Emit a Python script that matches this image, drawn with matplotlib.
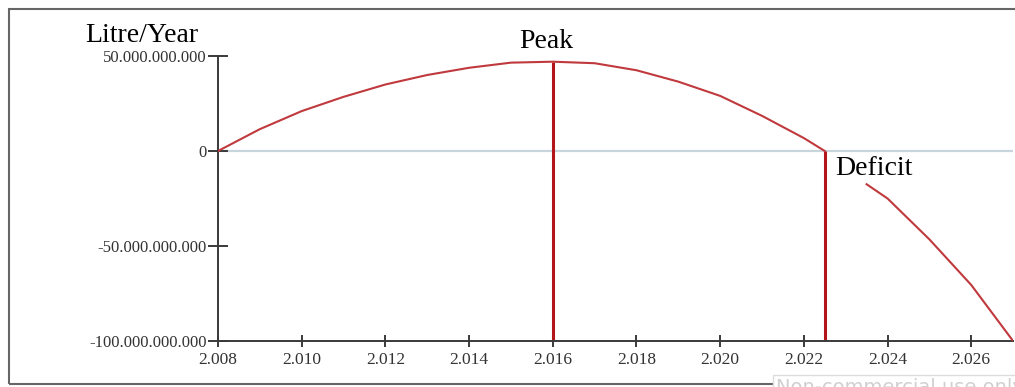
import numpy as np
import matplotlib
matplotlib.use("Agg")
import matplotlib.pyplot as plt
from matplotlib.ticker import FuncFormatter
from matplotlib.patches import Rectangle

plt.rcParams['font.family'] = ['Liberation Serif', 'DejaVu Serif']

# curve (gap after the zero crossing)
years = [2008, 2009, 2010, 2011, 2012, 2013, 2014, 2015, 2016, 2017, 2018,
         2019, 2020, 2021, 2022, 2022.5, np.nan, 2023.5, 2024, 2025, 2026, 2027]
litres_bn = [0, 11.5, 21, 28.5, 35, 40, 43.8, 46.5, 47, 46.2, 42.5,
             36.5, 29, 18.5, 6.8, 0, np.nan, -17.5, -25, -46.5, -70.5, -100]
litres = [v * 1e9 for v in litres_bn]

peak_year = 2016
peak_value = 47e9
deficit_year = 2022.5

xticks = [2008, 2010, 2012, 2014, 2016, 2018, 2020, 2022, 2024, 2026]
yticks = [-100e9, -50e9, 0, 50e9]

fig = plt.figure(figsize=(10.15, 3.87), dpi=100)
ax = fig.add_axes([0.2148, 0.1189, 0.7833, 0.7364])

ax.axhline(0, color="#c8d5dd", lw=1.6, zorder=1)
ax.plot(years, litres, color="#c0393d", lw=1.5, zorder=3)
ax.vlines(peak_year, -100e9, peak_value, color="#b3151b", lw=2.2, zorder=2)
ax.vlines(deficit_year, -100e9, 0, color="#b3151b", lw=2.2, zorder=2)

ax.set_xlim(2008, 2027)
ax.set_ylim(-100e9, 50e9)
ax.set_xticks(xticks)
ax.set_yticks(yticks)
ax.xaxis.set_major_formatter(FuncFormatter(lambda v, p: f"{int(v)}"[0] + "." + f"{int(v)}"[1:]))
ax.yaxis.set_major_formatter(FuncFormatter(lambda v, p: f"{v:,.0f}".replace(",", ".")))

for s in ["top", "right"]:
    ax.spines[s].set_visible(False)
for s in ["left", "bottom"]:
    ax.spines[s].set_color("#3a3a3a")
    ax.spines[s].set_linewidth(1.4)
ax.tick_params(axis="y", direction="inout", length=14, width=1.4, color="#3a3a3a",
               labelsize=12, labelcolor="#333333", pad=1)
ax.tick_params(axis="x", direction="inout", length=8, width=1.4, color="#3a3a3a",
               labelsize=12.5, labelcolor="#333333", pad=4)

ax.text(2015.85, 54e9, "Peak", fontsize=20, ha="center", va="baseline", clip_on=False)
ax.text(2022.76, -12.5e9, "Deficit", fontsize=20, ha="left", va="baseline")
fig.text(142 / 1015, 1 - 42 / 387, "Litre/Year", fontsize=20, ha="center", va="baseline")

# outer frame of the screenshot
fig.patches.append(Rectangle((9 / 1015, 1 - 384 / 387), 1.0, 375 / 387,
                             transform=fig.transFigure, fill=False,
                             edgecolor="#666666", lw=1.5))
fig.text(776 / 1015, 1 - 378 / 387, "Non-commercial use only", family="DejaVu Sans",
         fontsize=14, color="#d0d0d0", ha="left", va="top",
         bbox=dict(facecolor="white", edgecolor="#dddddd", pad=2))

fig.savefig("out.png", dpi=100)
